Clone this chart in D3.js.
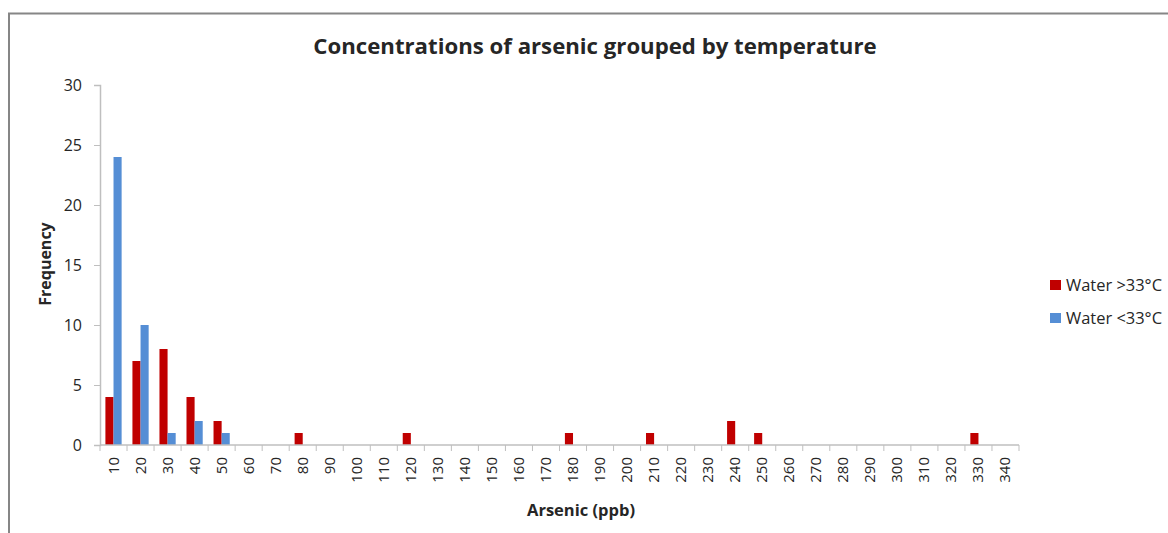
<!DOCTYPE html>
<html>
<head>
<meta charset="utf-8">
<script src="https://cdn.jsdelivr.net/npm/d3@7"></script>
<style>
  html, body { margin: 0; padding: 0; background: #fff; }
  svg { display: block; }
  text { font-family: "Open Sans", "Liberation Sans", sans-serif; fill: #262626; }
</style>
</head>
<body>
<svg id="chart" width="1168" height="533"></svg>
<script>
// Arsenic concentration bins (ppb)
const categories = [10,20,30,40,50,60,70,80,90,100,110,120,130,140,150,160,170,180,190,200,210,220,230,240,250,260,270,280,290,300,310,320,330,340];
// Frequency of samples, water warmer than 33 °C
const hotWater = [4,7,8,4,2,0,0,1,0,0,0,1,0,0,0,0,0,1,0,0,1,0,0,2,1,0,0,0,0,0,0,0,1,0];
// Frequency of samples, water cooler than 33 °C
const coolWater = [24,10,1,2,1,0,0,0,0,0,0,0,0,0,0,0,0,0,0,0,0,0,0,0,0,0,0,0,0,0,0,0,0,0];
const seriesNames = ["Water >33°C", "Water <33°C"];
const seriesColors = ["#C00000", "#558ED5"];
const yTicks = [0,5,10,15,20,25,30];

const svg = d3.select("#chart");

// outer frame
svg.append("rect")
  .attr("x", 9).attr("y", 13.5)
  .attr("width", 1200).attr("height", 600)
  .attr("fill", "none").attr("stroke", "#868686").attr("stroke-width", 2);

const plot = { left: 100, right: 1019, top: 85, bottom: 445 };

const x = d3.scaleBand()
  .domain(categories)
  .range([plot.left, plot.right])
  .paddingInner(0.4)
  .paddingOuter(0.2);

const xSub = d3.scaleBand()
  .domain([0, 1])
  .range([0, x.bandwidth()]);

const y = d3.scaleLinear().domain([0, 30]).range([plot.bottom, plot.top]);

// bars
const series = [hotWater, coolWater];
series.forEach((vals, si) => {
  svg.append("g").selectAll("rect")
    .data(vals.map((v, i) => ({ c: categories[i], v })).filter(d => d.v > 0))
    .join("rect")
    .attr("x", d => x(d.c) + xSub(si))
    .attr("y", d => y(d.v))
    .attr("width", xSub.bandwidth())
    .attr("height", d => y(0) - y(d.v))
    .attr("fill", seriesColors[si]);
});

// y axis
const yAxis = svg.append("g")
  .attr("transform", `translate(${plot.left},0)`)
  .call(d3.axisLeft(y).tickValues(yTicks).tickSize(6).tickPadding(12));
yAxis.select(".domain").attr("stroke", "#BFBFBF").attr("stroke-width", 1.5);
yAxis.selectAll(".tick line").attr("stroke", "#BFBFBF");
yAxis.selectAll(".tick text").attr("font-size", 16).attr("fill", "#404040")
  .attr("font-family", "'Open Sans', sans-serif");

// x axis with ticks at category boundaries
const boundaries = d3.range(categories.length + 1).map(i => plot.left + i * (plot.right - plot.left) / categories.length);
const xAxisG = svg.append("g");
xAxisG.append("line")
  .attr("x1", plot.left).attr("x2", plot.right)
  .attr("y1", plot.bottom).attr("y2", plot.bottom)
  .attr("stroke", "#BFBFBF").attr("stroke-width", 1.5);
xAxisG.selectAll("line.tk")
  .data(boundaries)
  .join("line")
  .attr("class", "tk")
  .attr("x1", d => d).attr("x2", d => d)
  .attr("y1", plot.bottom).attr("y2", plot.bottom + 6)
  .attr("stroke", "#BFBFBF");
xAxisG.selectAll("text")
  .data(categories)
  .join("text")
  .attr("transform", d => `translate(${x(d) + x.bandwidth() / 2 + 5},${plot.bottom + 12}) rotate(-90)`)
  .attr("text-anchor", "end")
  .attr("font-size", 15)
  .attr("fill", "#404040")
  .text(d => d);

// title
svg.append("text")
  .attr("x", 595).attr("y", 54)
  .attr("text-anchor", "middle")
  .attr("font-size", 22.2).attr("font-weight", "bold")
  .attr("fill", "#000")
  .text("Concentrations of arsenic grouped by temperature");

// axis titles
svg.append("text")
  .attr("transform", "translate(51,264) rotate(-90)")
  .attr("text-anchor", "middle")
  .attr("font-size", 16).attr("font-weight", "bold")
  .attr("fill", "#000")
  .text("Frequency");

svg.append("text")
  .attr("x", 581).attr("y", 516)
  .attr("text-anchor", "middle")
  .attr("font-size", 16.5).attr("font-weight", "bold")
  .attr("fill", "#000")
  .text("Arsenic (ppb)");

// legend
const legend = svg.append("g").attr("transform", "translate(1050,280)");
seriesNames.forEach((name, i) => {
  const g = legend.append("g").attr("transform", `translate(0,${i * 33})`);
  g.append("rect").attr("width", 11).attr("height", 10).attr("fill", seriesColors[i]);
  g.append("text").attr("x", 16).attr("y", 11)
    .attr("font-size", 16).attr("fill", "#262626")
    .attr("textLength", 96).attr("lengthAdjust", "spacingAndGlyphs")
    .text(name);
});
</script>
</body>
</html>
